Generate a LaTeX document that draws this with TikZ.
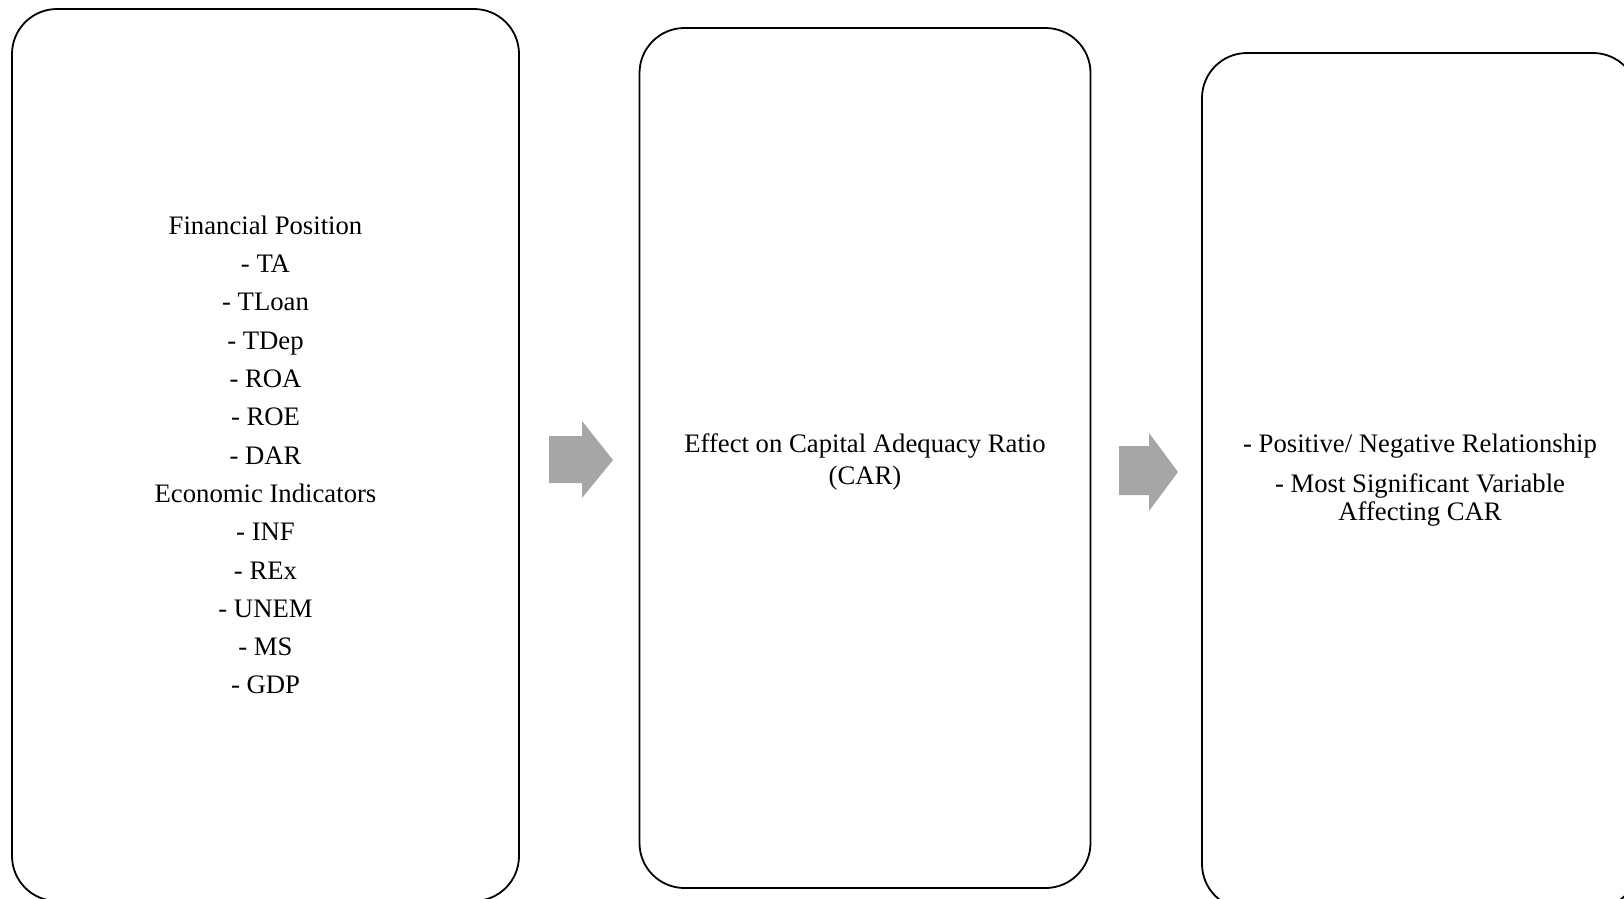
\documentclass[tikz,border=0pt]{standalone}
\usepackage{fontspec}
\setmainfont{Liberation Serif}
\begin{document}
\begin{tikzpicture}[x=1pt,y=-1pt,
  panel/.style={draw=black, line width=1.8pt, rounded corners=45pt, fill=white,
    inner sep=0pt},
  paneltext/.style={inner sep=0pt, align=center, font=\fontsize{26.7}{32.3}\selectfont},
  blockarrow/.style={fill=black!35, draw=none}]
\useasboundingbox (0,0) rectangle (1624,898);
\fill[white] (0,0) rectangle (1624,898);

% three stages
\node[panel, minimum width=507pt, minimum height=892pt] (inputs) at (265.5,455) {};
\node[paneltext] (inputs-text) at (inputs.center)
  {Financial Position\\[6pt] - TA\\[6pt] - TLoan\\[6pt] - TDep\\[6pt] - ROA\\[6pt]
   - ROE\\[6pt] - DAR\\[6pt] Economic Indicators\\[6pt] - INF\\[6pt] - REx\\[6pt]
   - UNEM\\[6pt] - MS\\[6pt] - GDP};
\node[panel, minimum width=451pt, minimum height=860pt] (effect) at (865,458) {};
\node[paneltext] (effect-text) at ([yshift=-4pt]effect.center)
  {Effect on Capital Adequacy Ratio\\(CAR)};
\node[panel, minimum width=436pt, minimum height=856pt] (results) at (1420,481) {};
\node[paneltext] (results-text) at ([yshift=1pt]results.center)
  {- Positive/ Negative Relationship\\[8pt] - Most Significant Variable\\[-5pt]Affecting CAR};

% block arrows between the stages
\fill[blockarrow] (549,436) -- (582,436) -- (582,421) -- (613,460) -- (582,498)
  -- (582,483) -- (549,483) -- cycle;
\fill[blockarrow] (1119,446) -- (1149,446) -- (1149,433) -- (1178,472) -- (1149,511)
  -- (1149,495) -- (1119,495) -- cycle;
\end{tikzpicture}
\end{document}
